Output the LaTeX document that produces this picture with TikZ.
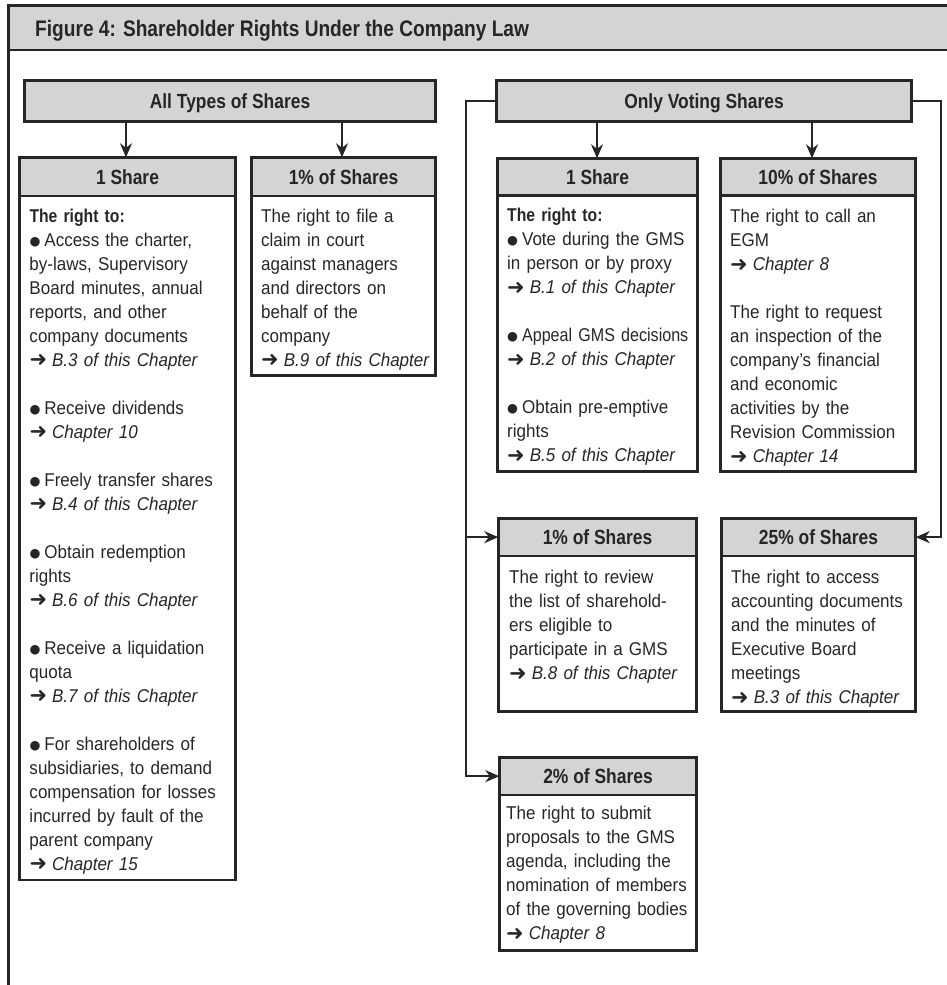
\documentclass[tikz,border=0pt]{standalone}
\usepackage{fontspec}
\setmainfont{Liberation Sans}[FakeStretch=0.92]
\newfontfamily\hdfont{Liberation Sans}[FakeStretch=0.85]
\newfontfamily\narrowfont{Liberation Sans}[FakeStretch=0.87]
\newfontfamily\symfont{DejaVu Sans}
\usetikzlibrary{arrows.meta,calc}

\definecolor{hdrgray}{RGB}{211,212,214}
\definecolor{ink}{RGB}{38,38,38}

\newcommand\bodysize{\fontsize{18.5}{24}\selectfont}
\newcommand\seeref[1]{{\symfont\fontsize{21}{24}\selectfont\raisebox{-0.5pt}{➜}}\hspace{5pt}\textit{#1}}
\newcommand\blt{{\symfont\fontsize{12.5}{24}\selectfont\raisebox{1.2pt}{●}}\hspace{4pt}}
\newcommand\lead{{\hdfont\bfseries The right to:}}

\begin{document}
\begin{tikzpicture}[x=1pt,y=-1pt,
  hdr/.style={draw=ink, fill=hdrgray, line width=2.6pt, inner sep=0, outer sep=0,
    text height=15pt, text depth=0pt, text=ink,
    font=\hdfont\bfseries\fontsize{20.5}{24}\selectfont},
  bodyframe/.style={draw=ink, line width=2.6pt, inner sep=0, outer sep=0, anchor=north},
  bodytext/.style={anchor=north west, inner sep=0, text width=260pt, align=left,
    font=\bodysize, text=ink},
  conn/.style={draw=ink, line width=2pt, line join=miter},
  arr/.style={conn, -{Stealth[length=14pt,width=12pt,inset=4.5pt]}},
  frameline/.style={draw=ink, line width=2.5pt},
]
\useasboundingbox (0,0) rectangle (947,985);

% title band and left frame line
\node[draw=ink, fill=hdrgray, line width=2.5pt, inner sep=0, outer sep=0,
      minimum width=952, minimum height=44.7, anchor=north west] (band) at (8.3,5.3) {};
\node[anchor=base west, inner sep=0, text=ink,
      font=\hdfont\bfseries\fontsize{22.5}{26}\selectfont] (title) at (35,36.7)
      {Figure 4: Shareholder Rights Under the Company Law};
\coordinate (fb) at (8.3,990);
\draw[frameline] (band.north west) -- (fb);

% group headers
\node[hdr, minimum width=411.4, minimum height=41.4] (at) at (230,101) {All Types of Shares};
\node[hdr, minimum width=415.4, minimum height=41.4] (ov) at (704,101) {Only Voting Shares};

% ---- all types: 1 share
\node[bodyframe, minimum width=216.4, minimum height=684] (s1b) at (127.5,196) {};
\node[hdr, minimum width=216.4, minimum height=38.7, anchor=south] (s1h) at (s1b.north) {1 Share};
\node[bodytext] (s1t) at ($(s1h.south west)+(10,9.2)$) {\strut\lead\\
\blt Access the charter,\\
by-laws, Supervisory\\
Board minutes, annual\\
reports, and other\\
company documents\\
\seeref{B.3 of this Chapter}\\[24pt]
\blt Receive dividends\\
\seeref{Chapter 10}\\[24pt]
\blt Freely transfer shares\\
\seeref{B.4 of this Chapter}\\[24pt]
\blt Obtain redemption\\
rights\\
\seeref{B.6 of this Chapter}\\[24pt]
\blt Receive a liquidation\\
quota\\
\seeref{B.7 of this Chapter}\\[24pt]
\blt For shareholders of\\
subsidiaries, to demand\\
compensation for losses\\
incurred by fault of the\\
parent company\\
\seeref{Chapter 15}};

% ---- all types: 1% of shares
\node[bodyframe, minimum width=184.4, minimum height=179.7] (p1b) at (343.5,196) {};
\node[hdr, minimum width=184.4, minimum height=38.7, anchor=south] (p1h) at (p1b.north) {1\% of Shares};
\node[bodytext] (p1t) at ($(p1h.south west)+(9.7,9.2)$) {\strut The right to file a\\
claim in court\\
against managers\\
and directors on\\
behalf of the\\
company\\
\seeref{B.9 of this Chapter}};

% ---- voting: 1 share
\node[bodyframe, minimum width=200.4, minimum height=276.2] (v1b) at (597.5,195.5) {};
\node[hdr, minimum width=200.4, minimum height=37.2, anchor=south] (v1h) at (v1b.north) {1 Share};
\node[bodytext] (v1t) at ($(v1h.south west)+(9.7,9.2)$) {\strut\lead\\
\blt Vote during the GMS\\
in person or by proxy\\
\seeref{B.1 of this Chapter}\\[24pt]
\blt {\narrowfont Appeal GMS decisions}\\
\seeref{B.2 of this Chapter}\\[24pt]
\blt Obtain pre-emptive\\
rights\\
\seeref{B.5 of this Chapter}};

% ---- voting: 10% of shares
\node[bodyframe, minimum width=195.4, minimum height=276.2] (t10b) at (818,195.5) {};
\node[hdr, minimum width=195.4, minimum height=37.2, anchor=south] (t10h) at (t10b.north) {10\% of Shares};
\node[bodytext] (t10t) at ($(t10h.south west)+(9.7,10)$) {\strut The right to call an\\
EGM\\
\seeref{Chapter 8}\\[24pt]
The right to request\\
an inspection of the\\
company’s financial\\
and economic\\
activities by the\\
Revision Commission\\
\seeref{Chapter 14}};

% ---- voting: 1% of shares
\node[bodyframe, minimum width=198.4, minimum height=155.7] (p1vb) at (597.5,556) {};
\node[hdr, minimum width=198.4, minimum height=37.7, anchor=south] (p1vh) at (p1vb.north) {1\% of Shares};
\node[bodytext] (p1vt) at ($(p1vh.south west)+(10.7,10.7)$) {\strut The right to review\\
the list of sharehold-\\
ers eligible to\\
participate in a GMS\\
\seeref{B.8 of this Chapter}};

% ---- voting: 25% of shares
\node[bodyframe, minimum width=194.4, minimum height=155.7] (q25b) at (818.5,556) {};
\node[hdr, minimum width=194.4, minimum height=37.7, anchor=south] (q25h) at (q25b.north) {25\% of Shares};
\node[bodytext] (q25t) at ($(q25h.south west)+(9.7,10.7)$) {\strut The right to access\\
accounting documents\\
and the minutes of\\
Executive Board\\
meetings\\
\seeref{B.3 of this Chapter}};

% ---- voting: 2% of shares
\node[bodyframe, minimum width=197.4, minimum height=155.7] (p2b) at (598,795) {};
\node[hdr, minimum width=197.4, minimum height=37.7, anchor=south] (p2h) at (p2b.north) {2\% of Shares};
\node[bodytext] (p2t) at ($(p2h.south west)+(6.7,7.7)$) {\strut The right to submit\\
proposals to the GMS\\
agenda, including the\\
nomination of members\\
of the governing bodies\\
\seeref{Chapter 8}};

% ---- connectors
\coordinate (a1) at (126,0);
\coordinate (a2) at (342,0);
\coordinate (a3) at (597,0);
\coordinate (a4) at (812,0);
\coordinate (lx) at (466,0);
\coordinate (rx) at (941,0);

\draw[arr] (a1 |- at.south) -- (a1 |- s1h.north);
\draw[arr] (a2 |- at.south) -- (a2 |- p1h.north);
\draw[arr] (a3 |- ov.south) -- (a3 |- v1h.north);
\draw[arr] (a4 |- ov.south) -- (a4 |- t10h.north);

\draw[arr] (ov.west) -- (lx |- ov.west) -- (lx |- p2h.west) -- (p2h.west);
\draw[arr] (lx |- p1vh.west) -- (p1vh.west);
\draw[arr] (ov.east) -- (rx |- ov.east) -- (rx |- q25h.east) -- (q25h.east);
\end{tikzpicture}
\end{document}
